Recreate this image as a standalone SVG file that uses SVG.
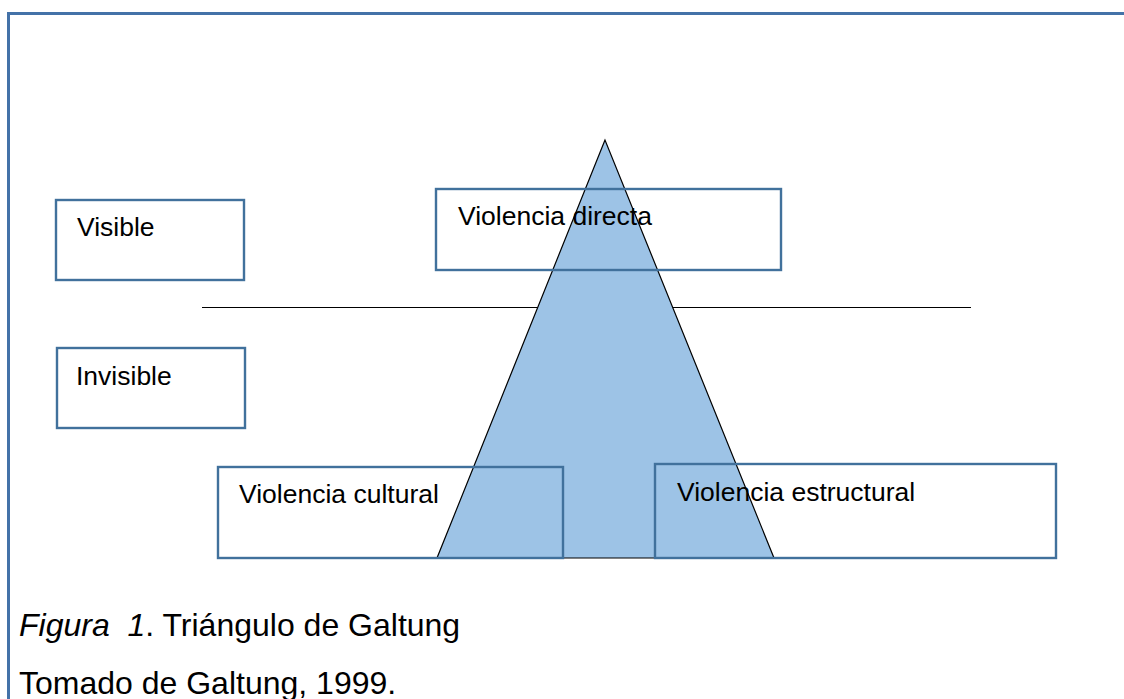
<svg xmlns="http://www.w3.org/2000/svg" width="1124" height="699" viewBox="0 0 1124 699">
<style>
.box{fill:none;stroke:#41719C;stroke-width:2.4}
.t{font-family:"Liberation Sans",Arial,sans-serif;font-size:26.5px;fill:#000}
.cap{font-family:"Liberation Sans",Arial,sans-serif;font-size:32px;fill:#000}
</style>
<rect x="0" y="0" width="1124" height="699" fill="#fff"/>
<rect id="frame" x="8.5" y="13.5" width="1130" height="700" fill="none" stroke="#4472A8" stroke-width="3"/>
<g id="connectors">
<line x1="202" y1="307.5" x2="971" y2="307.5" stroke="#000" stroke-width="1"/>
</g>
<g id="triangle">
<polygon points="605,140 437,558 774,558" fill="#9DC3E6" stroke="#000" stroke-width="1.2"/>
</g>
<g id="visible">
<rect class="box" x="56" y="200" width="188" height="80"/>
<text class="t" x="77" y="236">Visible</text>
</g>
<g id="invisible">
<rect class="box" x="57" y="348" width="188" height="80"/>
<text class="t" x="76" y="385">Invisible</text>
</g>
<g id="directa">
<rect class="box" x="436" y="189" width="345" height="81"/>
<text class="t" x="458" y="225">Violencia directa</text>
</g>
<g id="cultural">
<rect class="box" x="218" y="467" width="345" height="91"/>
<text class="t" x="239" y="503">Violencia cultural</text>
</g>
<g id="estructural">
<rect class="box" x="655" y="464" width="401" height="94"/>
<text class="t" x="677" y="501">Violencia estructural</text>
</g>
<g id="caption">
<text class="cap" x="19" y="636" xml:space="preserve"><tspan font-style="italic">Figura  1</tspan>. Triángulo de Galtung</text>
<text class="cap" x="19" y="694">Tomado de Galtung, 1999.</text>
</g>
</svg>
